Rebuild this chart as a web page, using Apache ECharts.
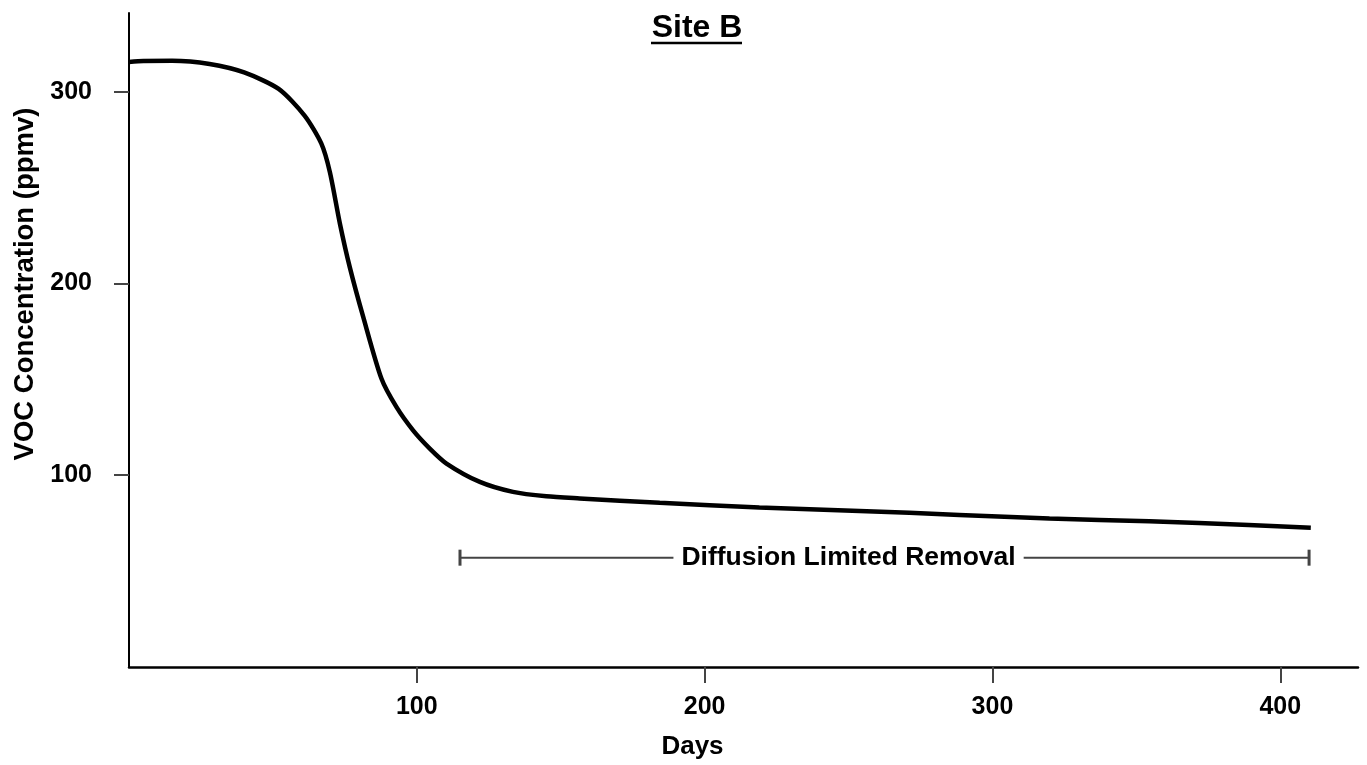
<!DOCTYPE html>
<html>
<head>
<meta charset="utf-8">
<script src="https://cdn.jsdelivr.net/npm/echarts@6/dist/echarts.min.js"></script>
<style>
  html, body { margin: 0; padding: 0; background: #fff; }
  #chart { width: 1367px; height: 765px; }
</style>
</head>
<body>
<div id="chart"></div>
<script>
// 数据
const days = [0, 5, 15, 28, 40, 52, 61, 66.8, 69.8, 73.3, 76.7, 81.4, 87.7, 92.9, 98.7, 104.5, 110.3, 121.9, 133.4, 145, 156.6, 184.4, 219, 253.8, 288.5, 319.8, 354.5, 389, 410.6]
const vocPpmv = [315.5, 316, 316.1, 314.4, 310, 301.4, 287.5, 273, 258, 231, 208.5, 182.4, 150.4, 135.6, 123.4, 113.9, 106.1, 96.5, 91.3, 89, 87.9, 85.6, 83.2, 81.4, 79.3, 77.4, 76, 74, 72.6]
const xTicks = [100, 200, 300, 400]
const yTicks = [100, 200, 300]
const annotationDays = [115, 410]
const annotationLevel = 57
const annotationLabelDay = 250
const annotationText = 'Diffusion Limited Removal'

const FONT = "'Liberation Sans', Arial, sans-serif"
const chart = echarts.init(document.getElementById('chart'))

const option = {
  backgroundColor: '#fff',
  animation: false,
  graphic: [
    {
      type: 'text',
      x: 697,
      y: 28,
      style: {
        text: 'Site B',
        textAlign: 'center',
        textVerticalAlign: 'middle',
        font: "bold 32px 'Liberation Sans', Arial, sans-serif",
        fill: '#000'
      }
    },
    {
      type: 'line',
      shape: { x1: 651, y1: 43, x2: 742, y2: 43 },
      style: { stroke: '#000', lineWidth: 2.5 }
    }
  ],
  grid: { left: 129, right: 9, top: 13, bottom: 98 },
  xAxis: {
    type: 'value',
    min: 0,
    max: 427,
    name: 'Days',
    nameLocation: 'middle',
    nameGap: 67,
    nameTextStyle: { fontFamily: FONT, fontSize: 26, fontWeight: 'bold', color: '#000', padding: [0, 102, 0, 0] },
    splitLine: { show: false },
    axisLine: { lineStyle: { color: '#000', width: 2.5 } },
    axisTick: { customValues: xTicks, length: 16, lineStyle: { color: '#444', width: 2 } },
    axisLabel: { customValues: xTicks, margin: 28, fontFamily: FONT, fontSize: 25, fontWeight: 'bold', color: '#000' }
  },
  yAxis: {
    type: 'value',
    min: 0,
    max: 341,
    name: 'VOC Concentration (ppmv)',
    nameLocation: 'middle',
    nameRotate: 90,
    nameGap: 87,
    nameTextStyle: { fontFamily: FONT, fontSize: 27.5, fontWeight: 'bold', color: '#000', padding: [0, 0, 0, 112] },
    splitLine: { show: false },
    axisLine: { show: true, lineStyle: { color: '#000', width: 2 } },
    axisTick: { show: true, customValues: yTicks, length: 15, lineStyle: { color: '#444', width: 2 } },
    axisLabel: { customValues: yTicks, margin: 37, fontFamily: FONT, fontSize: 25, fontWeight: 'bold', color: '#000' }
  },
  series: [
    {
      name: 'VOC',
      type: 'line',
      smooth: 0.25,
      showSymbol: false,
      lineStyle: { color: '#000', width: 4.5 },
      data: days.map((d, i) => [d, vocPpmv[i]])
    },
    {
      name: 'annotation',
      type: 'line',
      symbol: 'rect',
      symbolSize: [3, 16],
      showSymbol: true,
      itemStyle: { color: '#444' },
      lineStyle: { color: '#444', width: 2 },
      data: annotationDays.map(d => [d, annotationLevel]),
      markPoint: {
        symbol: 'circle',
        symbolSize: 0,
        data: [{ coord: [annotationLabelDay, annotationLevel] }],
        label: {
          show: true,
          position: 'inside',
          formatter: annotationText,
          backgroundColor: '#fff',
          padding: [2, 8],
          fontFamily: FONT,
          fontSize: 26.5,
          fontWeight: 'bold',
          color: '#000'
        }
      }
    }
  ]
}

chart.setOption(option)
</script>
</body>
</html>
